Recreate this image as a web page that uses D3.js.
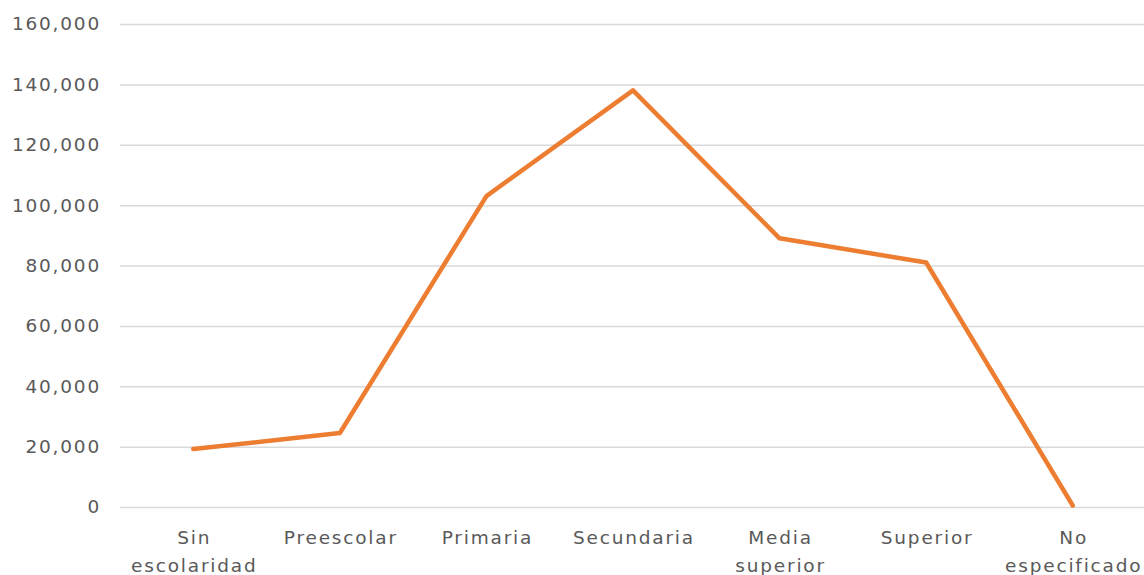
<!DOCTYPE html>
<html>
<head>
<meta charset="utf-8">
<script src="https://cdn.jsdelivr.net/npm/d3@7"></script>
<style>
  html, body { margin: 0; padding: 0; background: #fff; }
  svg text { font-family: "DejaVu Sans", "Open Sans", sans-serif; fill: #595959; letter-spacing: 1.8px; }
</style>
</head>
<body>
<div id="chart"></div>
<script>
// Data
const categories = ["Sin escolaridad", "Preescolar", "Primaria", "Secundaria", "Media superior", "Superior", "No especificado"];
const values = [19200, 24500, 103000, 138000, 89000, 81000, 500];
const yTicks = [0, 20000, 40000, 60000, 80000, 100000, 120000, 140000, 160000];

const W = 1144, H = 575;
const plot = { left: 120, right: 1146, top: 24, bottom: 507 };

const svg = d3.select("#chart").append("svg")
  .attr("width", W)
  .attr("height", H);

const x = d3.scalePoint().domain(categories).range([plot.left, plot.right]).padding(0.5);
const y = d3.scaleLinear().domain([0, 160000]).range([plot.bottom, plot.top]);

// gridlines + y labels
const yAxis = svg.append("g")
  .attr("transform", `translate(${plot.left},0)`)
  .call(d3.axisLeft(y).tickValues(yTicks).tickSize(-(W - plot.left)).tickPadding(19)
    .tickFormat(d3.format(",")));
yAxis.select(".domain").remove();
yAxis.selectAll(".tick line").attr("stroke", "#d9d9d9").attr("stroke-width", 1.5);
yAxis.selectAll(".tick text").style("font-size", "18.5px");

// category labels (two lines when needed)
const labels = svg.append("g");
categories.forEach(c => {
  const words = c.split(" ");
  const t = labels.append("text")
    .attr("x", x(c))
    .attr("y", 544)
    .attr("text-anchor", "middle")
    .style("font-size", "18.5px");
  words.forEach((w, i) => {
    t.append("tspan").attr("x", x(c) + 1).attr("dy", i === 0 ? 0 : 28).text(w);
  });
});

// line
const line = d3.line()
  .x((d, i) => x(categories[i]))
  .y(d => y(d));

svg.append("path")
  .datum(values)
  .attr("d", line)
  .attr("fill", "none")
  .attr("stroke", "#ED7D31")
  .attr("stroke-width", 4.5)
  .attr("stroke-linejoin", "round")
  .attr("stroke-linecap", "round");
</script>
</body>
</html>
